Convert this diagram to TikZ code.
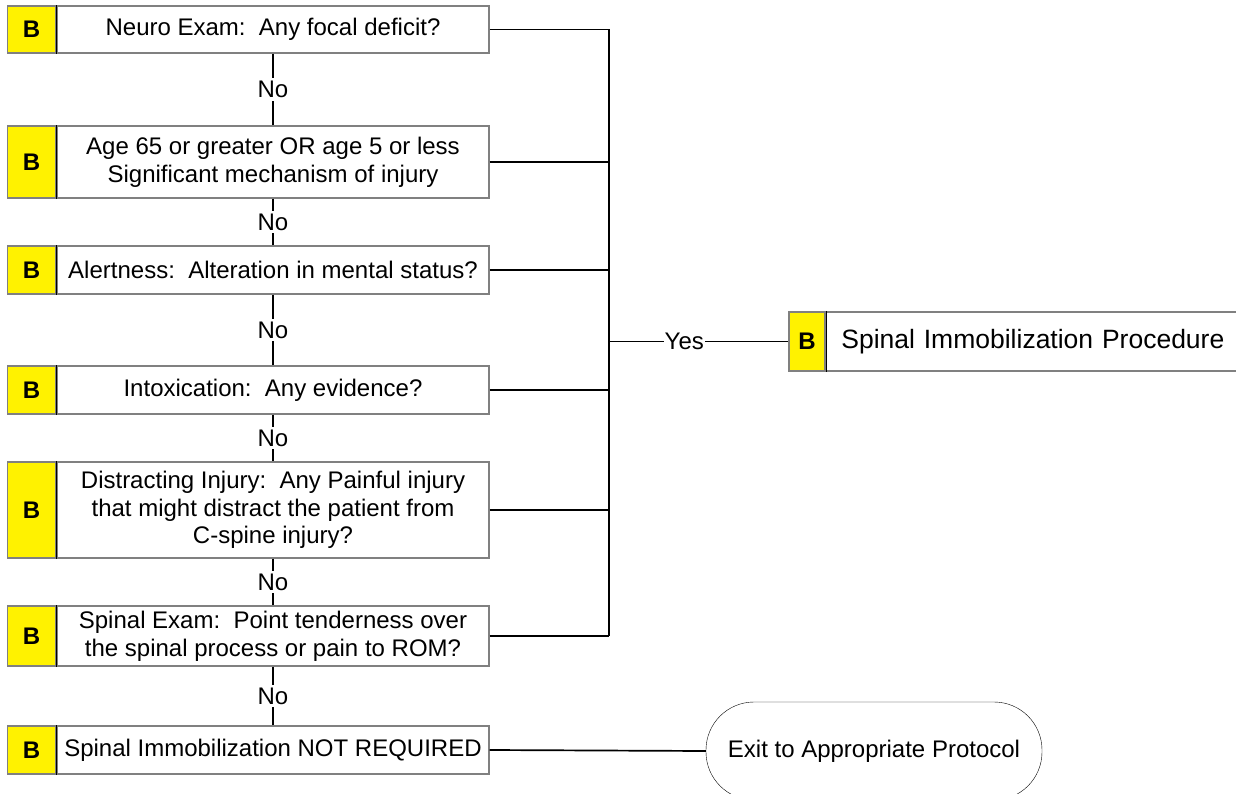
\documentclass[tikz,border=0pt]{standalone}
\usepackage{fontspec}
\setmainfont{Liberation Sans}
\definecolor{boxgray}{gray}{0.5}

\begin{document}
\begin{tikzpicture}[x=1pt,y=-1pt]
\tikzset{question/.style={draw=boxgray,line width=1.4pt,fill=white,minimum width=432pt,inner sep=0pt,align=center,font=\fontsize{24}{27.6}\selectfont}}
\tikzset{bmark/.style={draw=boxgray,line width=1.4pt,fill=yellow,minimum width=48pt,inner sep=0pt,anchor=east,font=\fontsize{24}{24}\selectfont\bfseries}}
\tikzset{wire/.style={line width=1.7pt}}
\tikzset{nolink/.style={line width=1.2pt}}
\tikzset{nolabel/.style={fill=white,inner sep=3pt,font=\fontsize{24}{24}\selectfont}}

\clip (0,0) rectangle (1236,794);

% questions
\node[question,minimum height=47pt] (q1) at (273,29.5) {Neuro Exam:\ \ Any focal deficit?};
\node[question,minimum height=72pt] (q2) at (273,162) {Age 65 or greater OR age 5 or less\\Significant mechanism of injury};
\node[question,minimum height=48pt] (q3) at (273,270) {Alertness:\ \ Alteration in mental status?};
\node[question,minimum height=48pt] (q4) at (273,390) {Intoxication:\ \ Any evidence?};
\node[question,minimum height=96pt] (q5) at (273,510) {Distracting Injury:\ \ Any Painful injury\\that might distract the patient from\\C-spine injury?};
\node[question,minimum height=60pt] (q6) at (273,636) {Spinal Exam:\ \ Point tenderness over\\the spinal process or pain to ROM?};
\node[question,minimum height=48pt] (q7) at (273,750) {Spinal Immobilization NOT REQUIRED};

\foreach \i/\h in {1/47,2/72,3/48,4/48,5/96,6/60,7/48} {
  \node[bmark,minimum height=\h pt] (b\i) at (q\i.west) {B};
  \draw[thin] (q\i.north west) -- (q\i.south west);
}

% outcomes
\node[bmark,minimum width=36pt,minimum height=59pt,anchor=center] (pb) at (807,341.5) {B};
\node[draw=boxgray,line width=1.4pt,fill=white,anchor=west,minimum height=59pt,inner ysep=0pt,inner xsep=15pt,text width=420pt,align=left,font=\fontsize{26.5}{26.5}\selectfont] (proc) at (pb.east) {Spinal Immobilization Procedure};
\draw[thin] (proc.north west) -- (proc.south west);
\node[draw,thin,rounded corners=48pt,minimum width=336pt,minimum height=98pt,font=\fontsize{24}{24}\selectfont] (exit) at (874,751) {Exit to Appropriate Protocol};

% No chain
\foreach \a/\b in {1/2,2/3,3/4,4/5,5/6,6/7}
  \draw[nolink] (q\a) -- node[nolabel] {No} (q\b);

% Yes bus
\coordinate (bus) at (609,0);
\foreach \i in {1,...,6}
  \draw[wire] (q\i.east) -- (q\i.east -| bus);
\draw[wire] (q1.east -| bus) -- (q6.east -| bus);
\draw[wire] (pb.west -| bus) -- node[nolabel,pos=0.42,inner sep=1pt] {Yes} (pb.west);
\draw[wire] (q7.east) -- (exit.west);

\end{tikzpicture}
\end{document}
